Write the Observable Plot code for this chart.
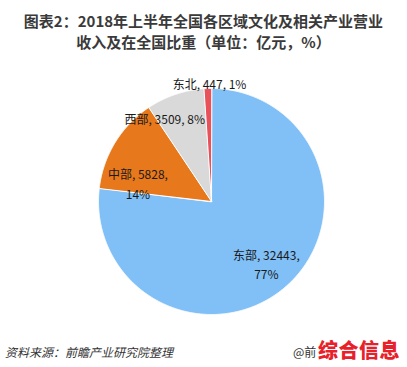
<!DOCTYPE html>
<html>
<head>
<meta charset="utf-8">
<script src="https://cdn.jsdelivr.net/npm/d3@7"></script>
<script src="https://cdn.jsdelivr.net/npm/@observablehq/plot@0.6"></script>
<style>
  html, body { margin: 0; padding: 0; background: #fff; }
  body { width: 407px; height: 367px; position: relative; overflow: hidden; font-family: "Noto Sans CJK SC", sans-serif; }
  #title { position: absolute; top: 10px; left: 0; width: 407px; text-align: center; font-weight: bold; font-size: 15px; line-height: 21px; color: #3a3a3a; white-space: nowrap; }
  #chart { position: absolute; top: 54px; left: 0; }
  #source { position: absolute; top: 344px; left: 5px; font-size: 12px; line-height: 16px; font-style: italic; color: #333; }
  #brand { position: absolute; top: 344px; left: 293px; font-size: 12px; line-height: 16px; color: #333; }
  #stamp { position: absolute; top: 337px; left: 318px; font-size: 20px; line-height: 26px; font-weight: 900; color: #e8202a; letter-spacing: 0.5px; }
</style>
</head>
<body>
<div id="title">图表2：2018年上半年全国各区域文化及相关产业营业<br>收入及在全国比重（单位：亿元，%）</div>
<div id="chart"></div>
<div id="source">资料来源：前瞻产业研究院整理</div>
<div id="brand">@前</div>
<div id="stamp">综合信息</div>
<script>
const names = ["东部", "中部", "西部", "东北"];
const values = [32443, 5828, 3509, 447];
const shares = ["77%", "14%", "8%", "1%"];
const colors = ["#80c0f7", "#e8781c", "#d9d9d9", "#e8505a"];

const rows = names.map((n, i) => ({name: n, value: values[i], share: shares[i]}));
const arcs = d3.pie().sort(null).value(d => d.value)(rows);

// polygon vertices for each slice (angle 0 at 12 o'clock, clockwise)
const pts = [];
for (const a of arcs) {
  pts.push({name: a.data.name, x: 0, y: 0});
  const n = Math.max(2, Math.ceil((a.endAngle - a.startAngle) / 0.005));
  for (let k = 0; k <= n; k++) {
    const t = a.startAngle + (a.endAngle - a.startAngle) * k / n;
    pts.push({name: a.data.name, x: Math.sin(t), y: Math.cos(t)});
  }
}

function labelAt(i, r, text) {
  const a = arcs[i];
  const m = (a.startAngle + a.endAngle) / 2;
  return [{x: r * Math.sin(m), y: r * Math.cos(m), text}];
}

const textOpts = {x: "x", y: "y", text: "text", fill: "#1a1a1a", fontSize: 12, lineHeight: 1.65};

const chart = Plot.plot({
  width: 407,
  height: 280,
  margin: 0,
  style: {fontFamily: "'Noto Sans CJK SC', sans-serif", background: "white"},
  x: {domain: [-1, 1], range: [98, 324], axis: null},
  y: {domain: [-1, 1], range: [260, 34], axis: null},
  color: {domain: names, range: colors},
  marks: [
    Plot.line(pts, {x: "x", y: "y", z: "name", fill: "name", stroke: "white", strokeWidth: 1, curve: "linear-closed"}),
    Plot.text(labelAt(0, 0.73, `${names[0]}, ${values[0]},\n${shares[0]}`), {...textOpts}),
    Plot.text(labelAt(1, 0.68, `${names[1]}, ${values[1]},\n${shares[1]}`), {...textOpts, dx: -8, dy: 21}),
    Plot.text(labelAt(2, 0.845, `${names[2]}, ${values[2]}, ${shares[2]}`), {...textOpts, dx: -16, dy: 7}),
    Plot.text(labelAt(3, 1.05, `${names[3]}, ${values[3]}, ${shares[3]}`), {...textOpts, dx: 2})
  ]
});
document.getElementById("chart").appendChild(chart);
</script>
</body>
</html>
